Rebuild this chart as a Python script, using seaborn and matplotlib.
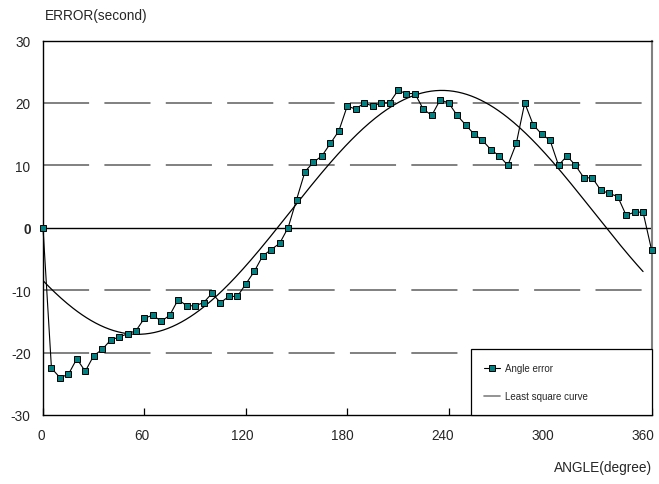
import numpy as np
import pandas as pd
import matplotlib
matplotlib.use("Agg")
import matplotlib.pyplot as plt
from matplotlib.lines import Line2D
from matplotlib.transforms import ScaledTranslation, blended_transform_factory
import seaborn as sns

# ---- data ----
angles = list(range(0, 361, 5))
angle_error = [
    0, -22.5, -24, -23.5, -21, -23, -20.5, -19.5, -18, -17.5, -17, -16.5,
    -14.5, -14, -15, -14, -11.5, -12.5, -12.5, -12, -10.5, -12, -11, -11,
    -9, -7, -4.5, -3.5, -2.5, 0, 4.5, 9, 10.5, 11.5, 13.5, 15.5,
    19.5, 19, 20, 19.5, 20, 20, 22, 21.5, 21.5, 19, 18, 20.5,
    20, 18, 16.5, 15, 14, 12.5, 11.5, 10, 13.5, 20, 16.5, 15,
    14, 10, 11.5, 10, 8, 8, 6, 5.5, 5, 2, 2.5, 2.5, -3.5,
]
x_ticks = [0, 60, 120, 180, 240, 300, 360]
y_ticks = [-30, -20, -10, 0, 10, 20, 30]
grid_levels = [-20, -10, 10, 20]
curve_end = 355  # the fitted curve stops short of the last point

df = pd.DataFrame({"angle": angles, "error": angle_error})

# least-squares sinusoid fitted to the measured data
rad = np.deg2rad(df["angle"].to_numpy(float))
A = np.column_stack([np.ones_like(rad), np.sin(rad), np.cos(rad)])
coef, *_ = np.linalg.lstsq(A, df["error"].to_numpy(float), rcond=None)
xc = np.linspace(0, curve_end, 400)
rc_ = np.deg2rad(xc)
curve = pd.DataFrame({"angle": xc,
                      "fit": coef[0] + coef[1] * np.sin(rc_) + coef[2] * np.cos(rc_)})

sns.set_theme(style="white")
plt.rcParams["font.family"] = ["Liberation Sans", "DejaVu Sans"]
plt.rcParams["lines.scale_dashes"] = False

fig = plt.figure(figsize=(6.59, 4.85), dpi=100)
ax = fig.add_axes([43 / 659, 1 - 416 / 485, 608.5 / 659, 374.5 / 485])

# dashed gray grid and solid zero line
for lv in grid_levels:
    ax.axhline(lv, color="#808080", lw=1.4, linestyle=(0, (33.2, 11.0)), zorder=1)
ax.axhline(0, color="black", lw=1.0, zorder=1)

sns.lineplot(data=curve, x="angle", y="fit", ax=ax, color="black", lw=0.9,
             zorder=2, legend=False)
sns.lineplot(data=df, x="angle", y="error", ax=ax, color="black", lw=0.8,
             marker="s", markersize=4.2, markerfacecolor="#008080",
             markeredgecolor="black", markeredgewidth=0.7, zorder=3,
             legend=False, clip_on=False)

ax.set_xlim(0, 360)
ax.set_ylim(-30, 30)
ax.set_xticks(x_ticks)
ax.set_yticks(y_ticks)
ax.set_xticklabels([""] * len(x_ticks))
ax.set_yticklabels([str(v) for v in y_ticks], fontsize=9.8)
for t in ax.get_yticklabels():
    if t.get_text() == "0":
        t.set_fontweight("bold")
ax.tick_params(axis="x", direction="in", length=5, width=0.9, color="black",
               bottom=True)
ax.tick_params(axis="y", length=0, pad=9)
ax.set_xlabel("")
ax.set_ylabel("")

# x labels: the reference's labels drift slightly left of their ticks
xtrans = blended_transform_factory(ax.transData, ax.transAxes)
for v in x_ticks:
    dx = -(1.5 + v * 0.0185) / 100.0
    off = ScaledTranslation(dx, -0.13, fig.dpi_scale_trans)
    ax.text(v, 0, str(v), transform=xtrans + off, ha="center", va="top",
            fontsize=9.8, clip_on=False)

for side in ["left", "bottom", "top"]:
    ax.spines[side].set_visible(True)
    ax.spines[side].set_color("black")
    ax.spines[side].set_linewidth(1.0)
ax.spines["right"].set_visible(True)
ax.spines["right"].set_color("#808080")
ax.spines["right"].set_linewidth(1.5)

handles = [
    Line2D([], [], color="black", lw=0.8, marker="s", markersize=4.2,
           markerfacecolor="#008080", markeredgecolor="black", markeredgewidth=0.7),
    Line2D([], [], color="#808080", lw=1.2),
]
leg = ax.legend(handles, ["Angle error", "Least square curve"],
                loc="lower left", bbox_to_anchor=(0.703, 0.0, 0.297, 0.195),
                mode="expand", borderaxespad=0, fontsize=7, frameon=True,
                fancybox=False, framealpha=1, edgecolor="black",
                borderpad=1.4, labelspacing=1.9, handlelength=1.6,
                handletextpad=0.5)
leg.get_frame().set_linewidth(0.9)

fig.text(45 / 659, 1 - 16 / 485, "ERROR(second)", fontsize=9.8,
         ha="left", va="center")
fig.text(652 / 659, 1 - 468 / 485, "ANGLE(degree)", fontsize=9.8,
         ha="right", va="center")

fig.savefig("out.png", dpi=100, facecolor="white")
